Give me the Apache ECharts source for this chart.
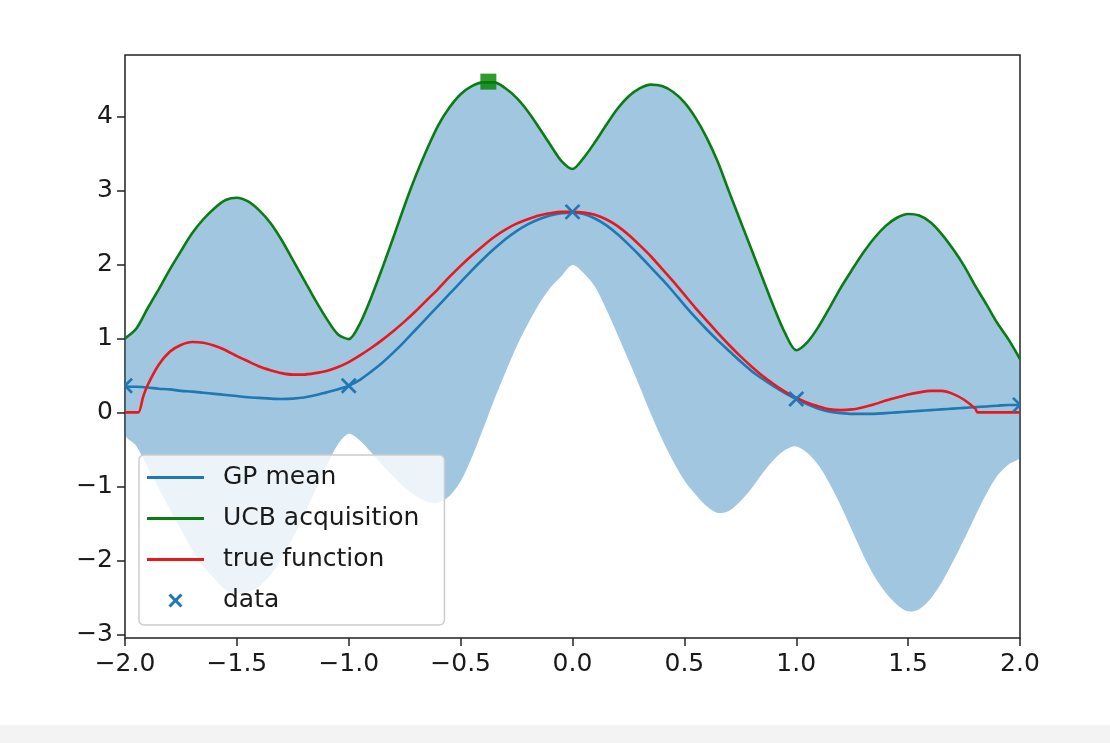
<!DOCTYPE html>
<html>
<head>
<meta charset="utf-8">
<title>GP-UCB</title>
<script src="https://cdn.jsdelivr.net/npm/echarts@6/dist/echarts.min.js"></script>
<style>
  html, body { margin: 0; padding: 0; }
  body { background: linear-gradient(to bottom, #ffffff 0, #ffffff 725px, #f3f3f3 725px, #f3f3f3 743px); }
  #chart { width: 1110px; height: 743px; }
</style>
</head>
<body>
<div id="chart"></div>
<script>
// Sample locations shared by the GP mean, the UCB curve and the confidence band
const xGrid = [
  -2.00, -1.95, -1.90, -1.85, -1.80, -1.75, -1.70, -1.65, -1.60, -1.55,
  -1.50, -1.45, -1.40, -1.35, -1.30, -1.25, -1.20, -1.15, -1.10, -1.05,
  -1.00, -0.95, -0.90, -0.85, -0.80, -0.75, -0.70, -0.65, -0.60, -0.55,
  -0.50, -0.45, -0.40, -0.35, -0.30, -0.25, -0.20, -0.15, -0.10, -0.05,
   0.00,  0.05,  0.10,  0.15,  0.20,  0.25,  0.30,  0.35,  0.40,  0.45,
   0.50,  0.55,  0.60,  0.65,  0.70,  0.75,  0.80,  0.85,  0.90,  0.95,
   1.00,  1.05,  1.10,  1.15,  1.20,  1.25,  1.30,  1.35,  1.40,  1.45,
   1.50,  1.55,  1.60,  1.65,  1.70,  1.75,  1.80,  1.85,  1.90,  1.95,
   2.00
];

// GP posterior mean
const gpMean = [
  0.35, 0.345, 0.335, 0.32, 0.31, 0.29, 0.28, 0.265, 0.25, 0.235,
  0.22, 0.205, 0.195, 0.185, 0.18, 0.185, 0.20, 0.23, 0.27, 0.31,
  0.36, 0.44, 0.55, 0.67, 0.81, 0.96, 1.12, 1.28, 1.44, 1.60,
  1.76, 1.92, 2.07, 2.21, 2.34, 2.45, 2.54, 2.61, 2.66, 2.69,
  2.70, 2.68, 2.62, 2.53, 2.41, 2.27, 2.12, 1.96, 1.80, 1.63,
  1.45, 1.28, 1.12, 0.97, 0.83, 0.69, 0.56, 0.45, 0.35, 0.26,
  0.18, 0.11, 0.05, 0.01, -0.01, -0.02, -0.02, -0.02, -0.01, 0.00,
  0.01, 0.02, 0.03, 0.04, 0.05, 0.06, 0.07, 0.08, 0.09, 0.10,
  0.10
];

// Upper confidence bound (also the top edge of the shaded band)
const ucbAcq = [
  1.00, 1.13, 1.40, 1.66, 1.93, 2.18, 2.42, 2.61, 2.76, 2.87,
  2.90, 2.85, 2.73, 2.56, 2.33, 2.06, 1.79, 1.52, 1.27, 1.06,
  0.99, 1.20, 1.55, 1.95, 2.37, 2.80, 3.20, 3.56, 3.88, 4.12,
  4.30, 4.41, 4.46, 4.46, 4.38, 4.25, 4.07, 3.85, 3.62, 3.40,
  3.29, 3.44, 3.65, 3.88, 4.10, 4.27, 4.38, 4.43, 4.41, 4.33,
  4.19, 3.98, 3.71, 3.38, 2.98, 2.59, 2.20, 1.81, 1.42, 1.07,
  0.84, 0.95, 1.16, 1.42, 1.69, 1.93, 2.16, 2.36, 2.52, 2.63,
  2.68, 2.66, 2.57, 2.41, 2.21, 1.98, 1.71, 1.46, 1.20, 0.98,
  0.72
];

// Bottom edge of the shaded band
const bandLower = [
  -0.30, -0.45, -0.74, -1.02, -1.31, -1.58, -1.86, -2.08, -2.25, -2.40,
  -2.45, -2.43, -2.35, -2.20, -1.97, -1.70, -1.39, -1.06, -0.73, -0.44,
  -0.29, -0.38, -0.54, -0.71, -0.87, -1.02, -1.13, -1.21, -1.22, -1.13,
  -0.93, -0.61, -0.23, 0.17, 0.54, 0.89, 1.19, 1.46, 1.68, 1.84,
  1.99, 1.88, 1.70, 1.40, 1.06, 0.71, 0.35, -0.02, -0.36, -0.66,
  -0.92, -1.11, -1.27, -1.36, -1.33, -1.20, -1.03, -0.82, -0.64, -0.51,
  -0.46, -0.55, -0.72, -0.97, -1.27, -1.60, -1.93, -2.22, -2.44, -2.60,
  -2.69, -2.66, -2.52, -2.30, -2.02, -1.72, -1.40, -1.10, -0.85, -0.70,
  -0.60
];

// True objective
const trueX = [
  -2.00, -1.94, -1.92, -1.90, -1.85, -1.80, -1.75, -1.70, -1.65, -1.60,
  -1.55, -1.50, -1.45, -1.40, -1.35, -1.30, -1.25, -1.20, -1.15, -1.10,
  -1.05, -1.00, -0.95, -0.90, -0.85, -0.80, -0.75, -0.70, -0.65, -0.60,
  -0.55, -0.50, -0.45, -0.40, -0.35, -0.30, -0.25, -0.20, -0.15, -0.10,
  -0.05, 0.00, 0.05, 0.10, 0.15, 0.20, 0.25, 0.30, 0.35, 0.40,
   0.45, 0.50, 0.55, 0.60, 0.65, 0.70, 0.75, 0.80, 0.85, 0.90,
   0.95, 1.00, 1.05, 1.10, 1.15, 1.20, 1.25, 1.30, 1.35, 1.40,
   1.45, 1.50, 1.55, 1.60, 1.65, 1.70, 1.75, 1.80, 1.81, 2.00
];
const trueY = [
  0.00, 0.00, 0.20, 0.36, 0.64, 0.82, 0.91, 0.95, 0.94, 0.90,
  0.84, 0.76, 0.69, 0.62, 0.57, 0.53, 0.51, 0.51, 0.53, 0.56,
  0.61, 0.68, 0.77, 0.87, 0.98, 1.10, 1.23, 1.37, 1.52, 1.67,
  1.83, 1.98, 2.12, 2.25, 2.37, 2.47, 2.55, 2.61, 2.66, 2.69,
  2.71, 2.71, 2.70, 2.67, 2.61, 2.52, 2.40, 2.26, 2.11, 1.94,
  1.77, 1.59, 1.41, 1.24, 1.07, 0.91, 0.76, 0.62, 0.49, 0.38,
  0.28, 0.20, 0.13, 0.08, 0.04, 0.03, 0.04, 0.07, 0.11, 0.16,
  0.20, 0.24, 0.27, 0.29, 0.29, 0.25, 0.17, 0.05, 0.00, 0.00
];

// Observed samples
const dataX = [-2, -1, 0, 1, 2];
const dataY = [0.36, 0.36, 2.71, 0.18, 0.10];

// Maximiser of the acquisition function
const nextX = [-0.376];
const nextY = [4.47];

// Axis ticks
const yTicks = [-3, -2, -1, 0, 1, 2, 3, 4];
const xTickStep = 0.5;

const C_MEAN = '#1f77b4';
const C_UCB = '#0a7d12';
const C_TRUE = '#e8181e';
const FONT = "'DejaVu Sans', 'Liberation Sans', sans-serif";
const TEXT = '#1a1a1a';

const pairs = (xs, ys) => xs.map((x, i) => [x, ys[i]]);
const withMinus = s => s.replace('-', '\u2212');

const LINE_ICON = 'path://M0,0L57,0L57,3L0,3Z';
const X_ICON = 'path://M0,1.5L1.5,0L5,3.5L8.5,0L10,1.5L6.5,5L10,8.5L8.5,10L5,6.5L1.5,10L0,8.5L3.5,5Z';

const chart = echarts.init(document.getElementById('chart'), null, { renderer: 'canvas' });

const option = {
  backgroundColor: 'transparent',
  animation: false,
  grid: {
    left: 125, top: 55, right: 90, bottom: 105,
    show: true, borderColor: '#222', borderWidth: 1.5,
    backgroundColor: 'transparent',
    containLabel: false, outerBoundsMode: 'none'
  },
  xAxis: {
    type: 'value', min: -2, max: 2, interval: xTickStep,
    axisLine: { show: false, onZero: false },
    axisTick: { show: true, length: 8, lineStyle: { color: '#222', width: 1.5 } },
    splitLine: { show: false },
    axisLabel: {
      margin: 14, fontSize: 25, fontFamily: FONT, color: TEXT,
      formatter: v => Math.abs(v) < 1e-9 ? '0.0' : withMinus(v.toFixed(1))
    }
  },
  yAxis: {
    type: 'value', min: -3.05, max: 4.83,
    axisLine: { show: false, onZero: false },
    axisTick: { show: true, length: 8, customValues: yTicks, lineStyle: { color: '#222', width: 1.5 } },
    splitLine: { show: false },
    axisLabel: {
      margin: 12, fontSize: 25, fontFamily: FONT, color: TEXT,
      customValues: yTicks,
      formatter: v => withMinus(String(Math.round(v)))
    }
  },
  legend: {
    orient: 'vertical', left: 139, top: 455,
    itemWidth: 57, itemHeight: 14, itemGap: 16,
    padding: [10, 25, 12, 8],
    backgroundColor: 'rgba(255,255,255,0.8)',
    borderColor: '#cccccc', borderWidth: 1.5, borderRadius: 5,
    selectedMode: false,
    textStyle: { fontSize: 25, fontFamily: FONT, color: TEXT, padding: [0, 0, 0, 14] },
    data: [
      { name: 'GP mean', icon: LINE_ICON, itemStyle: { color: C_MEAN, borderWidth: 0 } },
      { name: 'UCB acquisition', icon: LINE_ICON, itemStyle: { color: C_UCB, borderWidth: 0 } },
      { name: 'true function', icon: LINE_ICON, itemStyle: { color: C_TRUE, borderWidth: 0 } },
      { name: 'data', icon: X_ICON, itemStyle: { color: C_MEAN, borderWidth: 0 } }
    ]
  },
  series: [
    {
      // shaded band between bandLower and ucbAcq, one closed polygon
      name: 'band', type: 'custom', data: [[0]], clip: true, silent: true, z: 1,
      renderItem: (params, api) => {
        const top = xGrid.map((x, i) => api.coord([x, ucbAcq[i]]));
        const bottom = xGrid.map((x, i) => api.coord([x, bandLower[i]])).reverse();
        return {
          type: 'polygon',
          shape: { points: top.concat(bottom), smooth: 0.3 },
          style: { fill: C_MEAN, opacity: 0.42 }
        };
      }
    },
    {
      name: 'GP mean', type: 'line', data: pairs(xGrid, gpMean), smooth: 0.3,
      symbol: 'none', itemStyle: { color: C_MEAN }, lineStyle: { color: C_MEAN, width: 2.6 }, z: 2
    },
    {
      name: 'UCB acquisition', type: 'line', data: pairs(xGrid, ucbAcq), smooth: 0.3,
      symbol: 'none', itemStyle: { color: C_UCB }, lineStyle: { color: C_UCB, width: 2.6 }, z: 2
    },
    {
      name: 'true function', type: 'line', data: pairs(trueX, trueY), smooth: 0.2,
      symbol: 'none', itemStyle: { color: C_TRUE }, lineStyle: { color: C_TRUE, width: 2.6 }, z: 3
    },
    {
      name: 'data', type: 'custom', data: pairs(dataX, dataY),
      encode: { x: 0, y: 1 }, clip: true, z: 4,
      itemStyle: { color: C_MEAN },
      renderItem: (params, api) => {
        const p = api.coord([api.value(0), api.value(1)]);
        const h = 7;
        const st = { stroke: C_MEAN, lineWidth: 2.6 };
        return {
          type: 'group',
          children: [
            { type: 'line', shape: { x1: p[0] - h, y1: p[1] - h, x2: p[0] + h, y2: p[1] + h }, style: st },
            { type: 'line', shape: { x1: p[0] - h, y1: p[1] + h, x2: p[0] + h, y2: p[1] - h }, style: st }
          ]
        };
      }
    },
    {
      name: 'next point', type: 'scatter', data: pairs(nextX, nextY),
      symbol: 'rect', symbolSize: 16, itemStyle: { color: '#008000' }, z: 5
    }
  ]
};

chart.setOption(option);
</script>
</body>
</html>
